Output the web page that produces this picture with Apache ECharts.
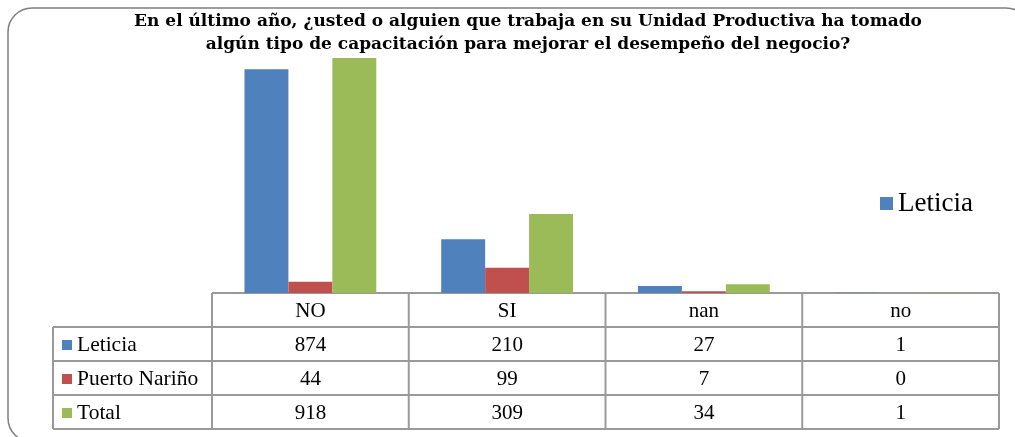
<!DOCTYPE html>
<html>
<head>
<meta charset="utf-8">
<script src="https://cdn.jsdelivr.net/npm/echarts@6/dist/echarts.min.js"></script>
<style>
html,body{margin:0;padding:0;background:#fff;}
#c{width:1015px;height:437px;}
</style>
</head>
<body>
<div id="c"></div>
<script>
const titleLines = ['En el último año, ¿usted o alguien que trabaja en su Unidad Productiva ha tomado',
                    'algún tipo de capacitación para mejorar el desempeño del negocio?'];
const categories = ['NO', 'SI', 'nan', 'no'];
const seriesNames = ['Leticia', 'Puerto Nariño', 'Total'];
const leticia = [874, 210, 27, 1];
const puertoNarino = [44, 99, 7, 0];
const total = [918, 309, 34, 1];
const colors = ['#4F81BD', '#C0504D', '#9BBB59'];

const rows = [leticia, puertoNarino, total];
const serif = '"Liberation Serif", "Times New Roman", serif';
const titleFont = 'bold 17px "DejaVu Serif", serif';

const chart = echarts.init(document.getElementById('c'));
const gridTop = 37, gridBottom = 144, gridLeft = 212, gridRight = 16;

chart.setOption({
  animation: false,
  color: colors,
  grid: { left: gridLeft, right: gridRight, top: gridTop, bottom: gridBottom },
  legend: {
    data: ['Leticia'],
    left: 880, top: 190, padding: 0,
    itemWidth: 13, itemHeight: 13, itemGap: 6,
    icon: 'rect',
    textStyle: { fontFamily: serif, fontSize: 27, color: '#000' }
  },
  xAxis: {
    type: 'category', data: categories,
    axisLine: { show: false }, axisTick: { show: false }, axisLabel: { show: false }
  },
  yAxis: {
    type: 'value', min: 0, max: 1000, interval: 200,
    show: false, splitLine: { show: false }
  },
  series: seriesNames.map((n, i) => ({
    name: n, type: 'bar', data: rows[i],
    barGap: '0%', barCategoryGap: '33%',
    itemStyle: { color: colors[i] }
  }))
});

// Build data table from the arrays, aligned to the category axis
const W = chart.getWidth(), H = chart.getHeight();
const axisY = H - gridBottom;
const rowH = 34;
const tableLeft = 53;
const c0 = chart.convertToPixel({ xAxisIndex: 0 }, 0);
const c1 = chart.convertToPixel({ xAxisIndex: 0 }, 1);
const band = c1 - c0;
const colEdges = categories.map((_, i) => chart.convertToPixel({ xAxisIndex: 0 }, i) - band / 2);
colEdges.push(colEdges[colEdges.length - 1] + band);
const tableRight = colEdges[colEdges.length - 1];
const lineStyle = { stroke: '#9a9a9a', lineWidth: 2 };
const els = [];

// outer rounded frame
els.push({ type: 'rect', shape: { x: 8, y: 8, width: 1022, height: 434, r: 24 },
  style: { fill: 'none', stroke: '#7f7f7f', lineWidth: 1.5 }, silent: true });

// title
titleLines.forEach((t, i) => {
  els.push({ type: 'text', x: 528, y: 22 + i * 23,
    style: { text: t, font: titleFont, fill: '#000', align: 'center', verticalAlign: 'middle' } });
});

// horizontal lines
els.push({ type: 'line', shape: { x1: colEdges[0], y1: axisY, x2: tableRight, y2: axisY }, style: lineStyle });
for (let r = 1; r <= rows.length; r++) {
  const y = axisY + r * rowH;
  els.push({ type: 'line', shape: { x1: tableLeft, y1: y, x2: tableRight, y2: y }, style: lineStyle });
}
const tableBottom = axisY + (rows.length + 1) * rowH;
els.push({ type: 'line', shape: { x1: tableLeft, y1: tableBottom, x2: tableRight, y2: tableBottom }, style: lineStyle });
// vertical lines
els.push({ type: 'line', shape: { x1: tableLeft, y1: axisY + rowH, x2: tableLeft, y2: tableBottom }, style: lineStyle });
colEdges.forEach(x => {
  els.push({ type: 'line', shape: { x1: x, y1: axisY, x2: x, y2: tableBottom }, style: lineStyle });
});
// header texts
categories.forEach((c, i) => {
  els.push({ type: 'text', x: colEdges[i] + band / 2, y: axisY + rowH / 2 + 1,
    style: { text: c, font: '21px ' + serif, fill: '#000', align: 'center', verticalAlign: 'middle' } });
});
// rows
rows.forEach((vals, r) => {
  const yc = axisY + (r + 1.5) * rowH + 1;
  els.push({ type: 'rect', shape: { x: 62, y: yc - 5, width: 10, height: 10 }, style: { fill: colors[r] } });
  els.push({ type: 'text', x: 77, y: yc,
    style: { text: seriesNames[r], font: '21.5px ' + serif, fill: '#000', align: 'left', verticalAlign: 'middle' } });
  vals.forEach((v, i) => {
    els.push({ type: 'text', x: colEdges[i] + band / 2, y: yc,
      style: { text: String(v), font: '21px ' + serif, fill: '#000', align: 'center', verticalAlign: 'middle' } });
  });
});

chart.setOption({ graphic: { elements: els } });
</script>
</body>
</html>
